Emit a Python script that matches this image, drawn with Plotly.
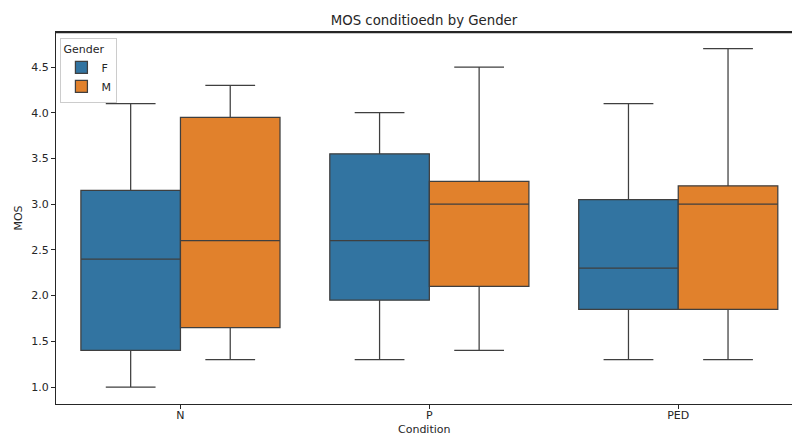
import plotly.graph_objects as go

conditions = ["N", "P", "PED"]
genders = ["F", "M"]
colors = {"F": "#3274a1", "M": "#e1812c"}

lower = {"F": [1.0, 1.3, 1.3], "M": [1.3, 1.4, 1.3]}
q1 = {"F": [1.4, 1.95, 1.85], "M": [1.65, 2.1, 1.85]}
median = {"F": [2.4, 2.6, 2.3], "M": [2.6, 3.0, 3.0]}
q3 = {"F": [3.15, 3.55, 3.05], "M": [3.95, 3.25, 3.2]}
upper = {"F": [4.1, 4.0, 4.1], "M": [4.3, 4.5, 4.7]}

fig = go.Figure()
for g in genders:
    fig.add_trace(go.Box(
        name=g,
        x=conditions,
        q1=q1[g], median=median[g], q3=q3[g],
        lowerfence=lower[g], upperfence=upper[g],
        fillcolor=colors[g],
        line=dict(color="#3f3f3f", width=1.25),
        whiskerwidth=0.5,
        boxpoints=False,
        hoverinfo="y",
    ))

font = "DejaVu Sans, sans-serif"
fig.update_layout(
    width=792, height=436,
    margin=dict(l=56, r=0, t=32, b=32),
    paper_bgcolor="white", plot_bgcolor="white",
    boxmode="group", boxgap=0.2, boxgroupgap=0,
    font=dict(family=font, size=11, color="#262626"),
    title=dict(text="MOS conditioedn by Gender", x=0.5, xanchor="center",
               xref="paper", y=1 - 20 / 436, yanchor="middle",
               font=dict(size=13.3, color="#262626")),
    legend=dict(title=dict(text="Gender", font=dict(size=11)),
                x=0.006, y=0.985, xanchor="left", yanchor="top",
                bordercolor="#cccccc", borderwidth=1, bgcolor="white",
                font=dict(size=11), tracegroupgap=0, itemwidth=30),
    showlegend=True,
    shapes=[dict(type="line", xref="paper", yref="paper", x0=0, x1=1,
                 y0=0.9985, y1=0.9985, layer="above",
                 line=dict(color="#262626", width=1.2))],
    annotations=[
        dict(text="Condition", xref="paper", yref="paper", x=0.5, y=-25 / 372,
             xanchor="center", yanchor="middle", showarrow=False,
             font=dict(size=11, color="#262626")),
    ],
)
fig.update_xaxes(
    type="category", range=[-0.5, 2.457],
    showline=True, linecolor="#262626", linewidth=1, mirror=True,
    ticks="outside", ticklen=4, tickcolor="#262626",
    ticklabelstandoff=-3,
    showgrid=False, zeroline=False,
)
fig.update_yaxes(
    range=[0.814, 4.883],
    tickvals=[1.0, 1.5, 2.0, 2.5, 3.0, 3.5, 4.0, 4.5],
    ticktext=["1.0", "1.5", "2.0", "2.5", "3.0", "3.5", "4.0", "4.5"],
    showline=True, linecolor="#262626", linewidth=1, mirror=False,
    ticks="outside", ticklen=4, tickcolor="#262626",
    showgrid=False, zeroline=False,
    title=dict(text="MOS", standoff=6, font=dict(size=11)),
)

fig.write_html("out.html")
